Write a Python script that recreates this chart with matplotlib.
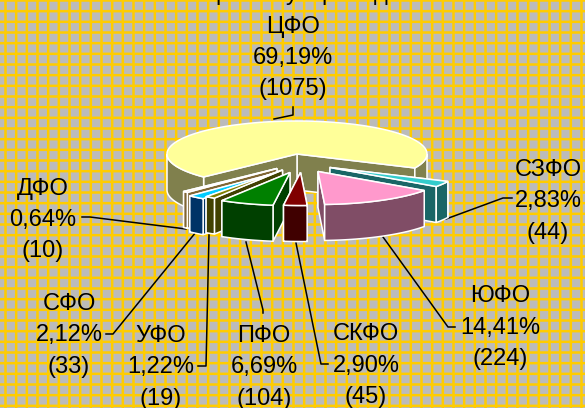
import numpy as np
import matplotlib
matplotlib.use("Agg")
import matplotlib.pyplot as plt
from matplotlib.patches import Polygon

names = ["ЦФО", "СЗФО", "ЮФО", "СКФО", "ПФО", "УФО", "СФО", "ДФО"]
percents = [69.19, 2.83, 14.41, 2.90, 6.69, 1.22, 2.12, 0.64]
counts = [1075, 44, 224, 45, 104, 19, 33, 10]
top_colors = ["#FFFF99", "#33CCCC", "#FF99CC", "#800000", "#008000", "#808000", "#00CCFF", "#FFCC99"]
side_colors = ["#80804D", "#1A6666", "#804D66", "#400000", "#004000", "#404000", "#003366", "#806633"]

# pixel shift of each exploded slice
shift_x = [0, 33, 21, 3.5, -7, -14.5, -17.5, -20]
shift_y = [0, 13.5, 17.5, 18.5, 18.5, 16, 18, 14.5]

# label centre x and first baseline
label_x = [293, 548, 500, 366, 264, 161, 69, 43]
label_y = [32.5, 175.5, 302.5, 340.5, 341.5, 342, 309.5, 194.5]

# leader lines
leaders = [
    [(274, 119), (293, 115), (293, 107)],
    [(512, 198), (503, 198), (446, 219)],
    [(455, 327), (448, 327), (383, 237)],
    [(328, 364), (321, 364), (296, 243)],
    [(263, 313), (263, 310), (246, 242)],
    [(198, 366), (206, 366), (209, 235)],
    [(106, 334), (113, 334), (196, 232)],
    [(82, 217), (90, 217), (186, 229)],
]

cx, cy = 297, 154
rx, ry = 130, 33
depth = 36
start_angle = -25.0

plt.rcParams["font.family"] = ["Liberation Sans", "DejaVu Sans"]

fig = plt.figure(figsize=(5.85, 4.08), dpi=100)
ax = fig.add_axes([0, 0, 1, 1])
ax.set_xlim(0, 585)
ax.set_ylim(408, 0)
ax.axis("off")
fig.patch.set_facecolor("#BBBBBB")

# tiled background
for i in range(56):
    ax.axvline(5.5 + i * 32 / 3, color="#FFCC00", lw=1.8, zorder=0, snap=False)
for i in range(40):
    ax.axhline(0.5 + i * 32 / 3, color="#FFCC00", lw=1.8, zorder=0, snap=False)

# slice angles, going clockwise from the end of the big slice
angles = {}
angles[0] = (start_angle, start_angle + percents[0] * 3.6)
a = start_angle
for i in range(1, 8):
    angles[i] = (a - percents[i] * 3.6, a)
    a = a - percents[i] * 3.6


def pt(ang, dx, dy):
    t = np.radians(ang)
    return (cx + dx + rx * np.cos(t), cy + dy - ry * np.sin(t))


def draw_slice(i, z):
    a0, a1 = angles[i]
    dx, dy = shift_x[i], shift_y[i]
    tip = (cx + dx, cy + dy)
    edge = "white"
    # cut faces, the one further back first
    cuts = sorted([a0, a1], key=lambda v: pt(v, dx, dy)[1])
    for c in cuts:
        p = pt(c, dx, dy)
        face = [tip, p, (p[0], p[1] + depth), (tip[0], tip[1] + depth)]
        ax.add_patch(Polygon(face, fc=side_colors[i], ec=edge, lw=1.1, zorder=z))
    # outer wall, only the part that faces front
    for lo, hi in [(a0, a1), (a0 + 360, a1 + 360), (a0 - 360, a1 - 360)]:
        lo2 = max(lo, -180)
        hi2 = min(hi, 0)
        if hi2 > lo2:
            ts = np.linspace(lo2, hi2, 40)
            upper = [pt(v, dx, dy) for v in ts]
            lower = [(p[0], p[1] + depth) for p in upper][::-1]
            ax.add_patch(Polygon(upper + lower, fc=side_colors[i], ec=edge, lw=1.1, zorder=z))
    ts = np.linspace(a0, a1, 120)
    top = [tip] + [pt(v, dx, dy) for v in ts]
    ax.add_patch(Polygon(top, fc=top_colors[i], ec=edge, lw=1.1, zorder=z))


order = [0, 7, 6, 5, 4, 1, 2, 3]
for z, i in enumerate(order):
    draw_slice(i, 2 + z)

for line in leaders:
    ax.plot([p[0] for p in line], [p[1] for p in line], color="black", lw=1.1, zorder=1.5)

for i in range(8):
    pct = f"{percents[i]:.2f}".replace(".", ",") + "%"
    rows = [names[i], pct, f"({counts[i]})"]
    for j in range(3):
        ax.text(label_x[i], label_y[i] + j * 31.5, rows[j], fontsize=17, ha="center", va="baseline",
                color="black", zorder=20)

# what is left of the cut off title above the picture
for letter, x in [("р", 222), ("у", 292), ("р", 328), ("д", 381)]:
    ax.text(x, 0, letter, fontsize=17, ha="center", va="baseline", color="black", clip_on=False)

fig.savefig("out.png", dpi=100, facecolor=fig.get_facecolor())
